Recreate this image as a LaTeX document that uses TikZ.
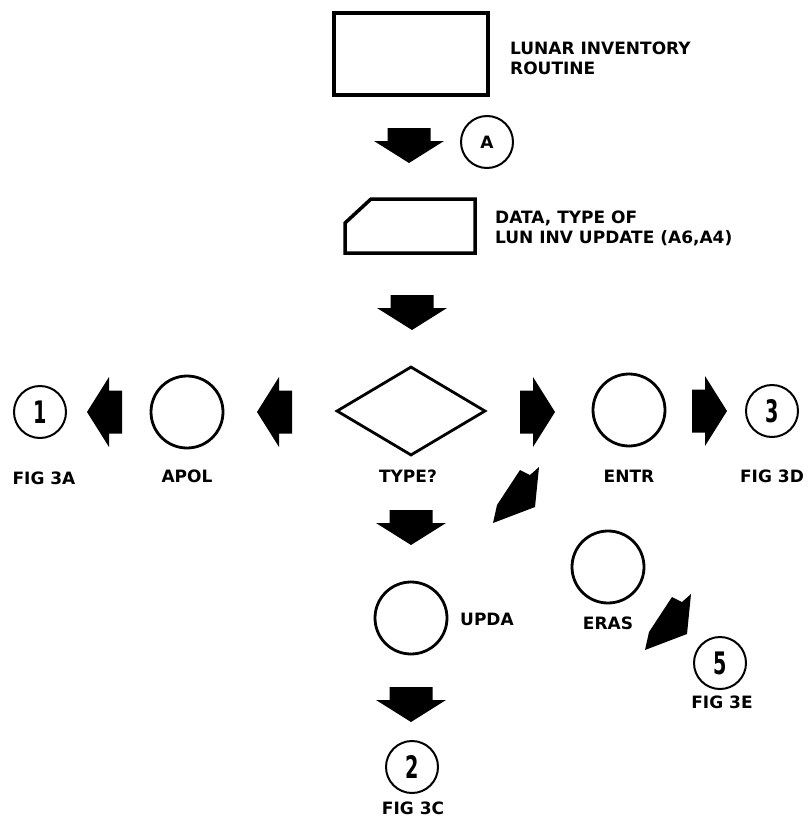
\documentclass[tikz,border=0pt]{standalone}
\usepackage{fontspec}
\setmainfont{DejaVu Sans}
\usepackage{graphicx}
\usetikzlibrary{shapes.geometric,positioning}
\tikzset{
  routinebox/.style={draw,line width=3.5pt,minimum width=154pt,minimum height=82pt,inner sep=0pt},
  bigcirc/.style={circle,draw,line width=2.8pt,minimum size=72pt,inner sep=0pt},
  offpage/.style={circle,draw,line width=2pt,minimum size=52pt,inner sep=0pt,font=\fontsize{17}{20}\selectfont\bfseries},
  decision/.style={diamond,draw,line width=2.8pt,minimum width=149pt,minimum height=89pt,inner sep=0pt},
  lbl/.style={inner sep=0pt,font=\fontsize{17}{20}\selectfont\bfseries},
  sidetext/.style={lbl,align=left,anchor=west},
  datapath/.style={draw,line width=3.5pt,line join=miter},
  blockarrow/.pic={\fill (0,0) -- (-22,35) -- (-22,21.5) -- (-35,21.5) -- (-35,-21.5) -- (-22,-21.5) -- (-22,-35) -- cycle;},
  diagarrow/.pic={\fill (0,0) -- (4,-18) -- (27,-53) -- (37,-48) -- (46,-56) -- (42,-16) -- cycle;},
}
\newcommand\fignum[1]{\scalebox{.62}[1]{\fontsize{31}{31}\selectfont\bfseries #1}}

\begin{document}
\begin{tikzpicture}[x=1pt,y=-1pt]
  \useasboundingbox (0,0) rectangle (807,819);
  \node[routinebox] (routine) at (411,54) {};
  \node[sidetext] (routinetxt) at (510,58) {LUNAR INVENTORY\\ROUTINE};
  \pic (arrA) at (409,163) [rotate=-90] {blockarrow};
  \node[offpage] (conA) at (487,142) {A};
  \draw[datapath] (371,199) -- (475,199) -- (475,253) -- (345,253) -- (345,223) -- cycle;
  \node[sidetext] (datatxt) at (495,228) {DATA, TYPE OF\\LUN INV UPDATE (A6,A4)};
  \pic (arrB) at (412,330) [rotate=-90] {blockarrow};

  \node[decision] (type) at (411,411) {};
  \node[lbl] (typetxt) at (408,476) {TYPE?};
  \pic (arrL1) at (257,412) [rotate=180] {blockarrow};
  \node[bigcirc] (apol) at (187,412) {};
  \node[lbl] (apoltxt) at (187,476) {APOL};
  \pic (arrL2) at (87,412) [rotate=180] {blockarrow};
  \node[offpage] (fig1) at (40,412) {\fignum{1}};
  \node[lbl] (fig1txt) at (44,478) {FIG 3A};

  \pic (arrR1) at (555,412) {blockarrow};
  \node[bigcirc] (entr) at (629,410) {};
  \node[lbl] (entrtxt) at (629,476) {ENTR};
  \pic (arrR2) at (727,411) {blockarrow};
  \node[offpage] (fig3) at (772,411) {\fignum{3}};
  \node[lbl] (fig3txt) at (772,476) {FIG 3D};

  \pic (arrD1) at (493,523) {diagarrow};
  \node[bigcirc] (eras) at (608,567) {};
  \node[lbl] (erastxt) at (608,623) {ERAS};
  \pic (arrD2) at (645,650) {diagarrow};
  \node[offpage] (fig5) at (720,663) {\fignum{5}};
  \node[lbl] (fig5txt) at (722,702) {FIG 3E};

  \pic (arrC) at (411,545) [rotate=-90] {blockarrow};
  \node[bigcirc] (upda) at (411,618) {};
  \node[sidetext] (updatxt) at (460,619) {UPDA};
  \pic (arrE) at (411,722) [rotate=-90] {blockarrow};
  \node[offpage] (fig2) at (412,767) {\fignum{2}};
  \node[lbl] (fig2txt) at (413,808) {FIG 3C};
\end{tikzpicture}
\end{document}
